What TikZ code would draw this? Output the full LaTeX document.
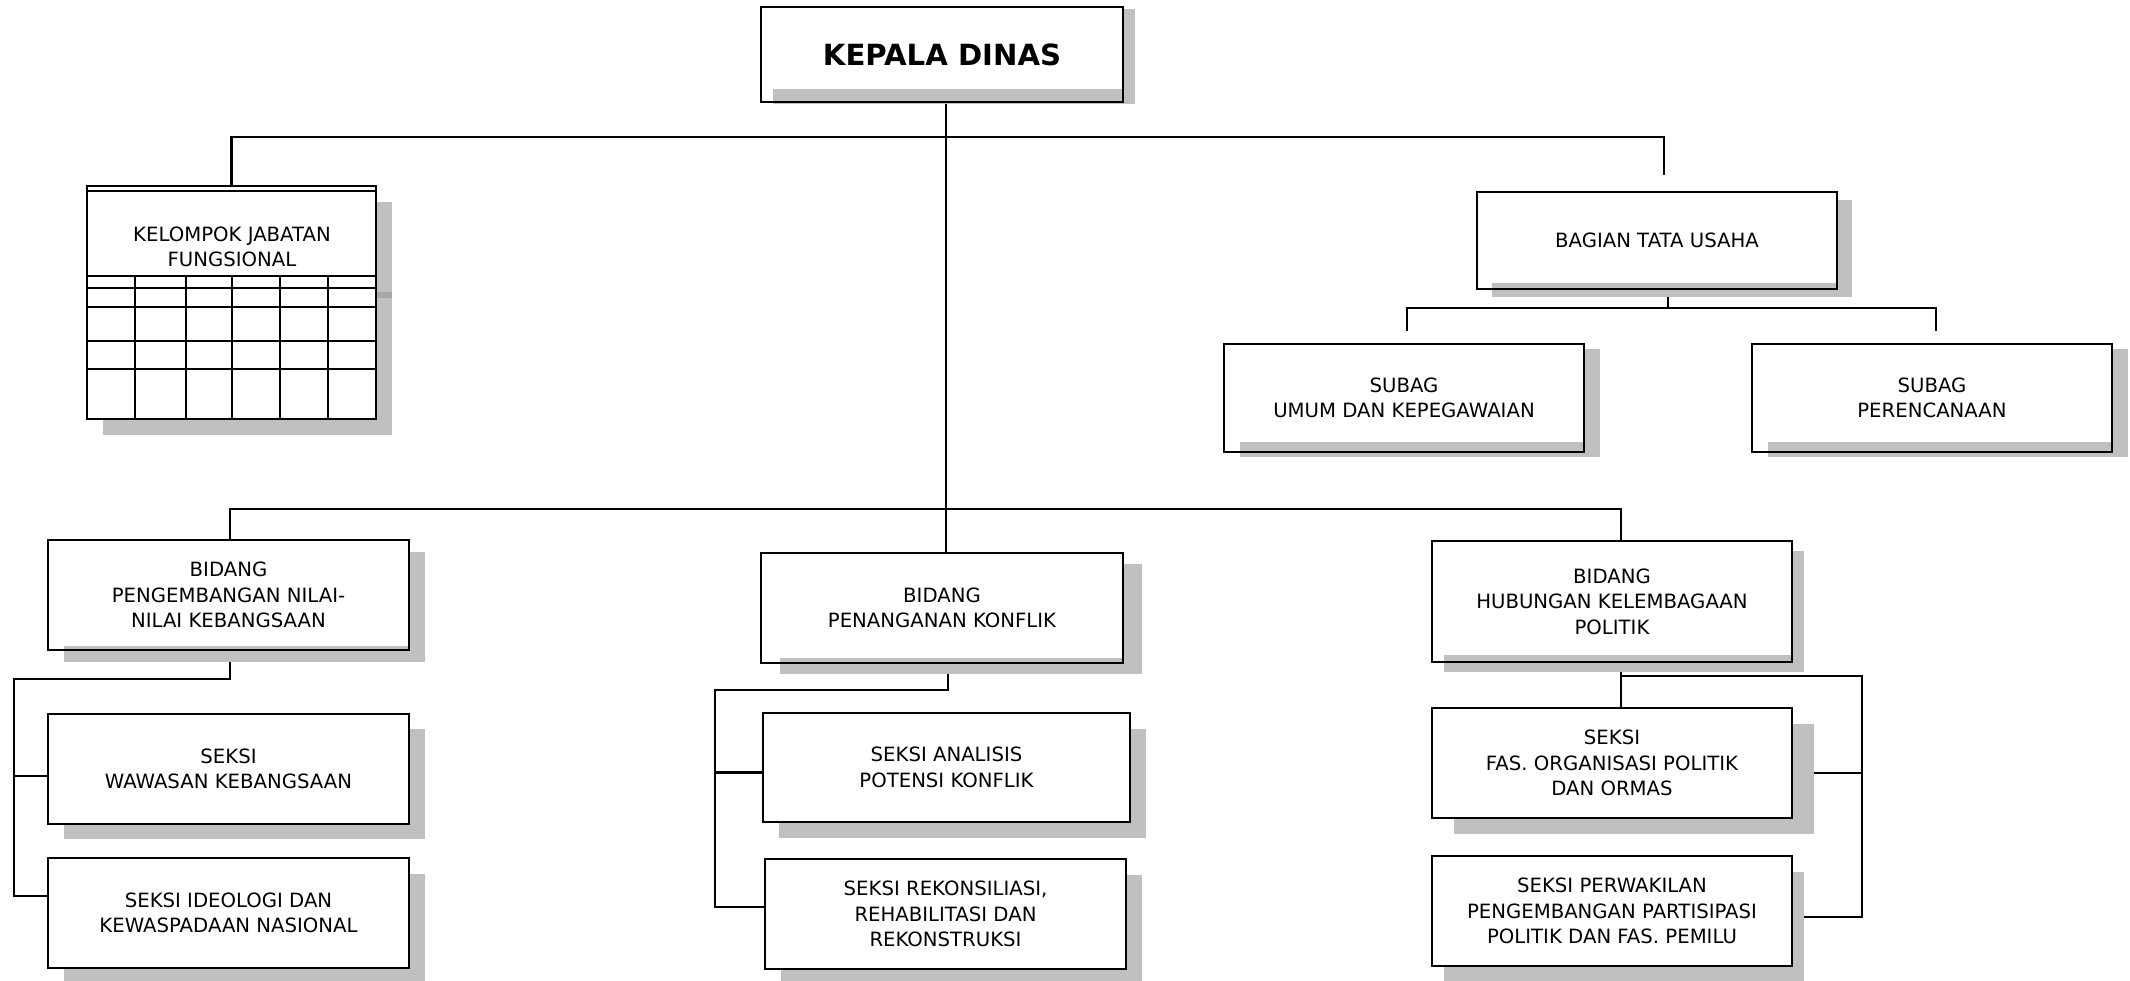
\documentclass[tikz,border=0pt]{standalone}
\usepackage{fontspec}
\setmainfont{DejaVu Sans}
\usetikzlibrary{calc}
\definecolor{abu}{RGB}{192,192,192}
\definecolor{abutua}{RGB}{168,168,168}
\pgfdeclarelayer{belakang}
\pgfsetlayers{belakang,main}
\tikzset{
    teks/.style={align=center,font=\fontsize{5.6}{7.3}\selectfont},
    kotak/.style={teks,draw,line width=0.75pt,inner sep=0pt},
    garis/.style={line width=0.6pt}
}
% name, x1, y1, x2, y2, shadow shift, strip, text
\newcommand{\kotak}[8] {
    \fill[abu,shift={#6}] (#2,#3) rectangle (#4,#5);
    \fill[white] (#2,#3) rectangle (#4,{#5-#7});
    \node[kotak,minimum width={(#4-#2)*0.1mm},minimum height={(#5-#3)*0.1mm}]
        (#1) at ({(#2+#4)/2},{(#3+#5)/2}) {#8};
}

\begin{document}
\begin{tikzpicture}[x=0.1mm,y=-0.1mm]
    \useasboundingbox (0,0) rectangle (2130,981);
    % pimpinan
    \kotak{kepala}{761}{7}{1123}{102}{(12,2)}{13}{\fontsize{8.3}{10}\selectfont\bfseries KEPALA DINAS}
    % jabatan fungsional
    \fill[abu] (103,202) rectangle (392,435);
    \fill[abutua] (376,292) rectangle (392,298);
    \fill[white] (87,186) rectangle (376,419);
    \foreach \y in {191,276,288,307,341,369}
        \draw[garis] (87,\y) -- (376,\y);
    \foreach \x in {135,186,232,280,328}
        \draw[garis] (\x,276) -- (\x,419);
    \node[kotak,minimum width=28.9mm,minimum height=23.3mm] (kelompok) at (231.5,302.5) {};
    \node[teks] (kelompokteks) at (232,247) {KELOMPOK JABATAN\\FUNGSIONAL};
    % sekretariat
    \kotak{bagian}{1477}{192}{1837}{289}{(15,8)}{6}{BAGIAN TATA USAHA}
    \kotak{subag1}{1224}{344}{1584}{452}{(16,5)}{10}{SUBAG\\UMUM DAN KEPEGAWAIAN}
    \kotak{subag2}{1752}{344}{2112}{452}{(16,5)}{10}{SUBAG\\PERENCANAAN}
    % bidang
    \kotak{pengembangan}{48}{540}{409}{650}{(16,12)}{4}{BIDANG\\PENGEMBANGAN NILAI-\\NILAI KEBANGSAAN}
    \kotak{penanganan}{761}{553}{1123}{663}{(19,11)}{5}{BIDANG\\PENANGANAN KONFLIK}
    \kotak{hubungan}{1432}{541}{1792}{662}{(12,10)}{7}{BIDANG\\HUBUNGAN KELEMBAGAAN\\POLITIK}
    % seksi
    \kotak{wawasan}{48}{714}{409}{824}{(16,15)}{0}{SEKSI\\WAWASAN KEBANGSAAN}
    \kotak{ideologi}{48}{858}{409}{968}{(16,16)}{0}{SEKSI IDEOLOGI DAN\\KEWASPADAAN NASIONAL}
    \kotak{analisis}{763}{713}{1130}{822}{(16,16)}{0}{SEKSI ANALISIS\\POTENSI KONFLIK}
    \kotak{rekonsiliasi}{765}{859}{1126}{969}{(16,16)}{0}{SEKSI REKONSILIASI,\\REHABILITASI DAN\\REKONSTRUKSI}
    \kotak{fas}{1432}{708}{1792}{818}{(22,16)}{0}{SEKSI\\FAS. ORGANISASI POLITIK\\DAN ORMAS}
    \kotak{perwakilan}{1432}{856}{1792}{966}{(12,16)}{0}{SEKSI PERWAKILAN\\PENGEMBANGAN PARTISIPASI\\POLITIK DAN FAS. PEMILU}
    % garis
    \coordinate (bus1) at (1664,137);
    \coordinate (tuujung) at (1664,175);
    \coordinate (tubawah) at (1668,308);
    \coordinate (sub1ujung) at (1407,331);
    \coordinate (sub2ujung) at (1936,331);
    \coordinate (bus2) at (946,509);
    \coordinate (kiri) at (14,679);
    \coordinate (tengah) at (715,690);
    \coordinate (tengahatas) at (948,690);
    \coordinate (hubx) at (1621,509);
    \coordinate (kanan) at (1862,676);
    \begin{pgfonlayer}{belakang}
        \draw[garis] (kepala.south -| bus2) -- (penanganan.north -| bus2);
        \draw[garis] (kelompok.north) |- (bus1) -- (tuujung);
        \draw[garis] (bagian.south -| tubawah) -- (tubawah);
        \draw[garis] (sub1ujung) |- (tubawah) -| (sub2ujung);
        \draw[garis] (pengembangan.north -| 230,0) |- (hubx) -- (hubungan.north -| hubx);
        \draw[garis] (pengembangan.south -| 230,0) |- (kiri) |- ($(ideologi.west)+(0,-17)$);
        \draw[garis] (kiri) |- ($(wawasan.west)+(0,7)$);
        \draw[garis] (penanganan.south -| tengahatas) -- (tengahatas) -- (tengah) |- ($(rekonsiliasi.west)+(0,-7)$);
        \draw[garis] (tengah) |- ($(analisis.west)+(0,5)$);
        \draw[garis] (hubungan.south -| hubx) -- (fas.north -| hubx);
        \draw[garis] (kanan -| hubx) -- (kanan) |- ($(perwakilan.east)+(0,6)$);
        \draw[garis] (kanan) |- ($(fas.east)+(0,10)$);
    \end{pgfonlayer}
\end{tikzpicture}
\end{document}
